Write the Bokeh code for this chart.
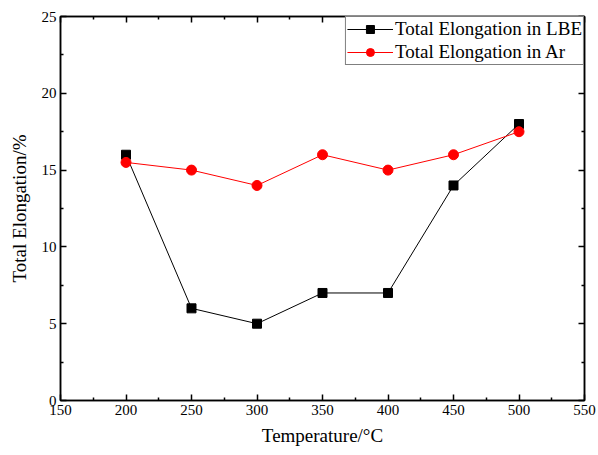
from bokeh.plotting import figure
from bokeh.models import LinearAxis, Range1d, FixedTicker, Legend, LegendItem
from bokeh.embed import file_html
from bokeh.resources import INLINE

temperature = [200, 250, 300, 350, 400, 450, 500]
elong_lbe = [16, 6, 5, 7, 7, 14, 18]
elong_ar = [15.5, 15, 14, 16, 15, 16, 17.5]
x_ticks = [150, 200, 250, 300, 350, 400, 450, 500, 550]
y_ticks = [0, 5, 10, 15, 20, 25]

FONT = "Liberation Serif"

p = figure(width=598, height=455, output_backend="svg", toolbar_location=None,
           x_range=Range1d(150, 550), y_range=Range1d(0, 25),
           min_border_left=60, min_border_right=14, min_border_top=16, min_border_bottom=55)
p.grid.visible = False
p.outline_line_color = "black"
p.outline_line_width = 1.5
p.background_fill_color = "white"
p.border_fill_color = "white"

def style(ax, labels=True):
    ax.axis_line_width = 1.5
    ax.axis_line_color = "black"
    ax.major_tick_in = 6
    ax.major_tick_out = 0
    ax.minor_tick_in = 3
    ax.minor_tick_out = 0
    ax.major_tick_line_width = 1.5
    ax.minor_tick_line_width = 1.5
    ax.major_label_text_font = FONT
    ax.major_label_text_font_size = "15px"
    ax.major_label_text_color = "black"
    ax.axis_label_text_font = FONT
    ax.axis_label_text_font_size = "19px"
    ax.axis_label_text_font_style = "normal"
    ax.axis_label_text_color = "black"
    if not labels:
        ax.major_label_text_font_size = "0px"
        ax.major_label_text_alpha = 0

xt = FixedTicker(ticks=x_ticks, minor_ticks=[175 + 50 * i for i in range(8)])
yt = FixedTicker(ticks=y_ticks, minor_ticks=[2.5 + 5 * i for i in range(5)])

p.xaxis.ticker = xt
p.yaxis.ticker = yt
p.xaxis.axis_label = "Temperature/°C"
p.yaxis.axis_label = "Total Elongation/%"
style(p.xaxis[0])
style(p.yaxis[0])
p.xaxis.major_label_standoff = 4
p.yaxis.major_label_standoff = 4
p.xaxis.axis_label_standoff = 7
p.yaxis.axis_label_standoff = 9

top = LinearAxis(ticker=FixedTicker(ticks=x_ticks, minor_ticks=[175 + 50 * i for i in range(8)]))
right = LinearAxis(ticker=FixedTicker(ticks=y_ticks, minor_ticks=[2.5 + 5 * i for i in range(5)]))
style(top, False)
style(right, False)
top.major_label_text_font_size = "0px"
right.major_label_text_font_size = "0px"
p.add_layout(top, "above")
p.add_layout(right, "right")

l1 = p.line(temperature, elong_lbe, line_color="black", line_width=1)
s1 = p.scatter(temperature, elong_lbe, marker="square", size=9, fill_color="black", line_color="black")
l2 = p.line(temperature, elong_ar, line_color="red", line_width=1)
s2 = p.scatter(temperature, elong_ar, marker="circle", size=10, fill_color="red", line_color="red")

legend = Legend(items=[LegendItem(label="Total Elongation in LBE", renderers=[l1, s1]),
                       LegendItem(label="Total Elongation in Ar", renderers=[l2, s2])],
                location="top_right")
legend.margin = 0
legend.padding = 1
legend.spacing = 1
legend.glyph_width = 46
legend.glyph_height = 20
legend.label_height = 20
legend.label_standoff = 2
legend.label_text_font = FONT
legend.label_text_font_size = "19px"
legend.label_text_color = "black"
legend.border_line_color = "black"
legend.border_line_width = 1
legend.background_fill_alpha = 1
p.add_layout(legend, "center")

open("out.html", "w").write(file_html(p, INLINE))
